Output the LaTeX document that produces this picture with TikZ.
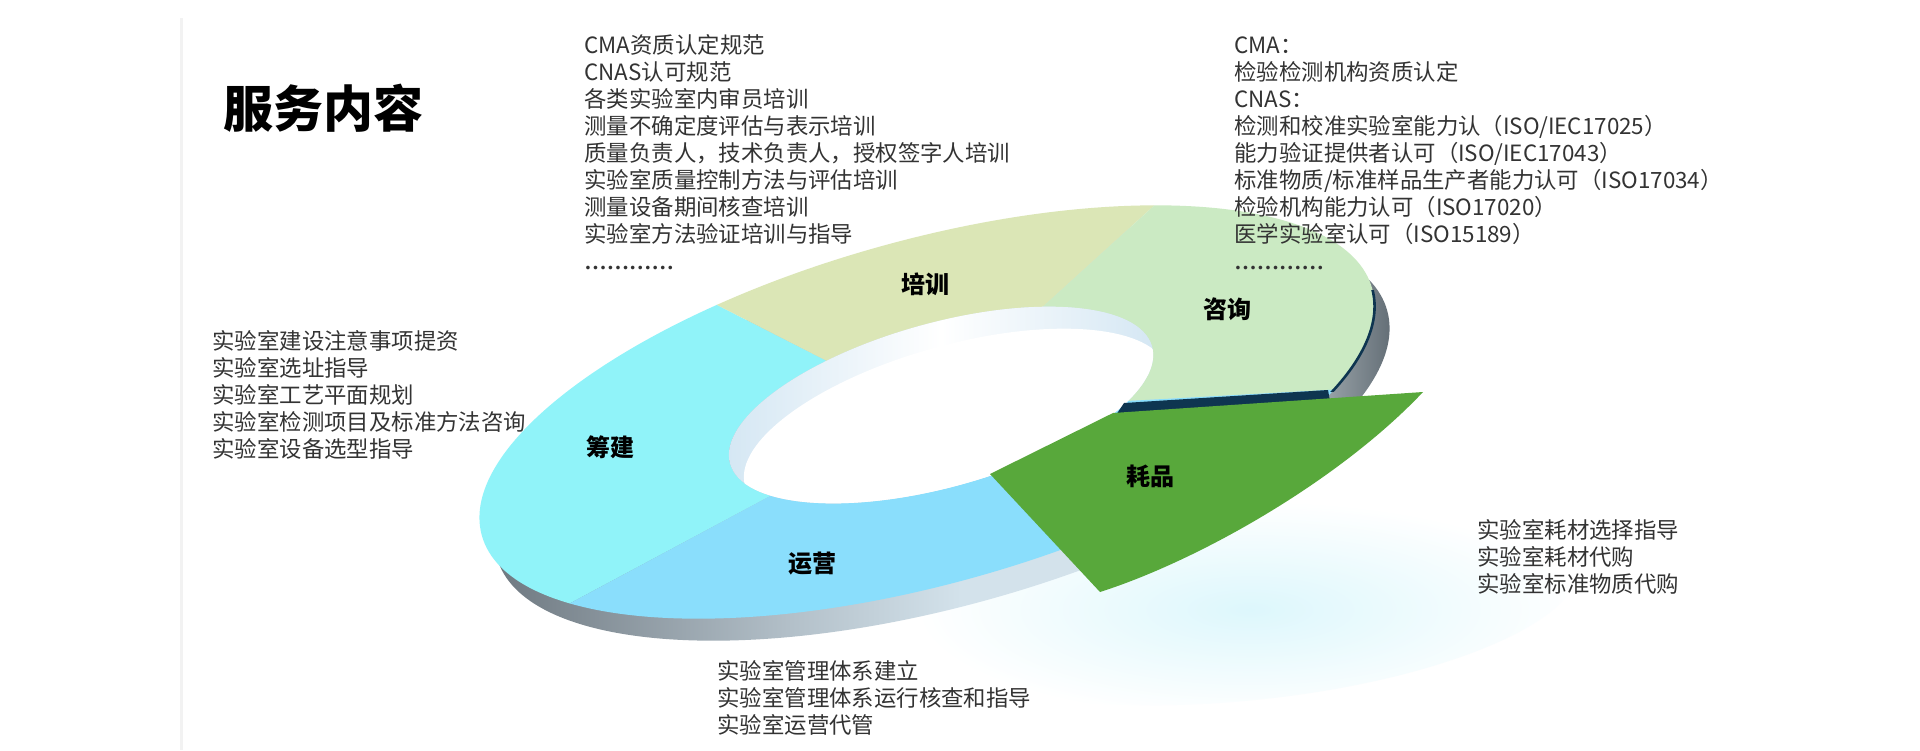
\documentclass[tikz,border=0pt]{standalone}
\usepackage{fontspec}
\setmainfont{Noto Sans CJK SC}
\newfontfamily\dotfont{Liberation Serif}

\definecolor{peiCol}{HTML}{DBE6B6}
\definecolor{zixCol}{HTML}{CBEAC3}
\definecolor{chouCol}{HTML}{90F3F9}
\definecolor{yunCol}{HTML}{8ADEFC}
\definecolor{haoCol}{HTML}{58A83B}
\definecolor{navyCol}{HTML}{0E3550}
\definecolor{wallCol}{HTML}{D3E6F3}
\definecolor{glowCol}{HTML}{DDF7FC}
\definecolor{txtCol}{HTML}{333333}
\definecolor{sideA}{HTML}{69737B}
\definecolor{sideB}{HTML}{B3C0C9}
\definecolor{sideC}{HTML}{D3E2EB}
\definecolor{sideD}{HTML}{8F999F}
\definecolor{sideE}{HTML}{525D66}

\pgfdeclarehorizontalshading{ringside}{100bp}{color(0bp)=(sideA); color(25bp)=(sideA); color(42bp)=(sideB); color(51bp)=(sideC); color(67bp)=(sideC); color(71bp)=(sideD); color(75bp)=(sideE); color(100bp)=(sideE)}

\newcommand\ringoval[4]{{[shift={(#1,#2)},rotate=15.5] (0,0) ellipse [x radius=#3, y radius=#4]}}

\begin{document}
\begin{tikzpicture}[x=0.5pt,y=-0.5pt,
  seg/.style={font=\fontsize{12}{14}\selectfont\bfseries,text=black,inner sep=0pt},
  info/.style={font=\fontsize{11.2}{13.5}\selectfont,text=txtCol,align=left,anchor=north west,inner sep=0pt}]
\useasboundingbox[fill=white] (0,0) rectangle (1920,750);
\draw[black!5,line width=1.5pt] (181,18) -- (181,750);

\shade[inner color=glowCol,outer color=white] {[shift={(1250,600)},rotate=6] (0,0) ellipse [x radius=330, y radius=100]};
\shade[shading=ringside] \ringoval{942}{434}{462}{172};

\begin{scope}
  \clip (927,412) -- (111,-4) -- (-300,-4) -- (-300,997) -- (-165,997) -- cycle;
  \fill[chouCol,even odd rule] \ringoval{927}{412}{462}{172} \ringoval{941}{405}{219}{82};
\end{scope}
\begin{scope}
  \clip (927,412) -- (111,-4) -- (111,-300) -- (1617,-300) -- (1617,-215) -- cycle;
  \fill[peiCol,even odd rule] \ringoval{927}{412}{462}{172} \ringoval{941}{405}{219}{82};
\end{scope}
\begin{scope}
  \clip (927,412) -- (1617,-215) -- (1617,-300) -- (2200,-300) -- (2200,346) -- (2127,346) -- cycle;
  \fill[zixCol,even odd rule] \ringoval{927}{412}{462}{172} \ringoval{941}{405}{219}{82};
\end{scope}
\begin{scope}
  \clip (927,412) -- (2127,346) -- (2200,346) -- (2200,1200) -- (-300,1200) -- (-300,997) -- (-165,997) -- cycle;
  \fill[yunCol,even odd rule] \ringoval{927}{412}{462}{172} \ringoval{941}{405}{219}{82};
\end{scope}

\shade[left color=wallCol,right color=wallCol,middle color=white] \ringoval{941}{405}{219}{82};
\begin{scope}
  \clip \ringoval{941}{405}{219}{82};
  \fill[white] \ringoval{956}{427}{219}{82};
\end{scope}

\begin{scope}
  \clip (1300,290) rectangle (1450,391);
  \draw[navyCol,line width=1.3pt] \ringoval{927}{412}{462}{172};
\end{scope}
\fill[navyCol] (1124,403) -- (1328,390) -- (1330,401) -- (1114,418) -- cycle;
\fill[haoCol] (1113,413) -- (990,474) -- (1100,592) .. controls (1200,560) and (1340,480) .. (1423,392) -- cycle;

\node[seg] (peixun) at (925,284) {培训};
\node[seg] (zixun) at (1227,309) {咨询};
\node[seg] (chou) at (610,447) {筹建};
\node[seg] (yunying) at (812,564) {运营};
\node[seg] (haopin) at (1150,476) {耗品};

\node[font=\fontsize{25}{30}\selectfont\bfseries,anchor=west,inner sep=0pt] (title) at (223,108) {服务内容};

\node[info] (peixunList) at (584,34) {CMA资质认定规范\\CNAS认可规范\\各类实验室内审员培训\\测量不确定度评估与表示培训\\质量负责人，技术负责人，授权签字人培训\\实验室质量控制方法与评估培训\\测量设备期间核查培训\\实验室方法验证培训与指导\\{\dotfont\bfseries …………}};
\node[info] (zixunList) at (1234,36) {CMA：\\检验检测机构资质认定\\CNAS：\\检测和校准实验室能力认（ISO/IEC17025）\\能力验证提供者认可（ISO/IEC17043）\\标准物质/标准样品生产者能力认可（ISO17034）\\检验机构能力认可（ISO17020）\\医学实验室认可（ISO15189）\\{\dotfont\bfseries …………}};
\node[info] (chouList) at (212,330) {实验室建设注意事项提资\\实验室选址指导\\实验室工艺平面规划\\实验室检测项目及标准方法咨询\\实验室设备选型指导};
\node[info] (yunyingList) at (717,660) {实验室管理体系建立\\实验室管理体系运行核查和指导\\实验室运营代管};
\node[info] (haopinList) at (1477,519) {实验室耗材选择指导\\实验室耗材代购\\实验室标准物质代购};
\end{tikzpicture}
\end{document}
